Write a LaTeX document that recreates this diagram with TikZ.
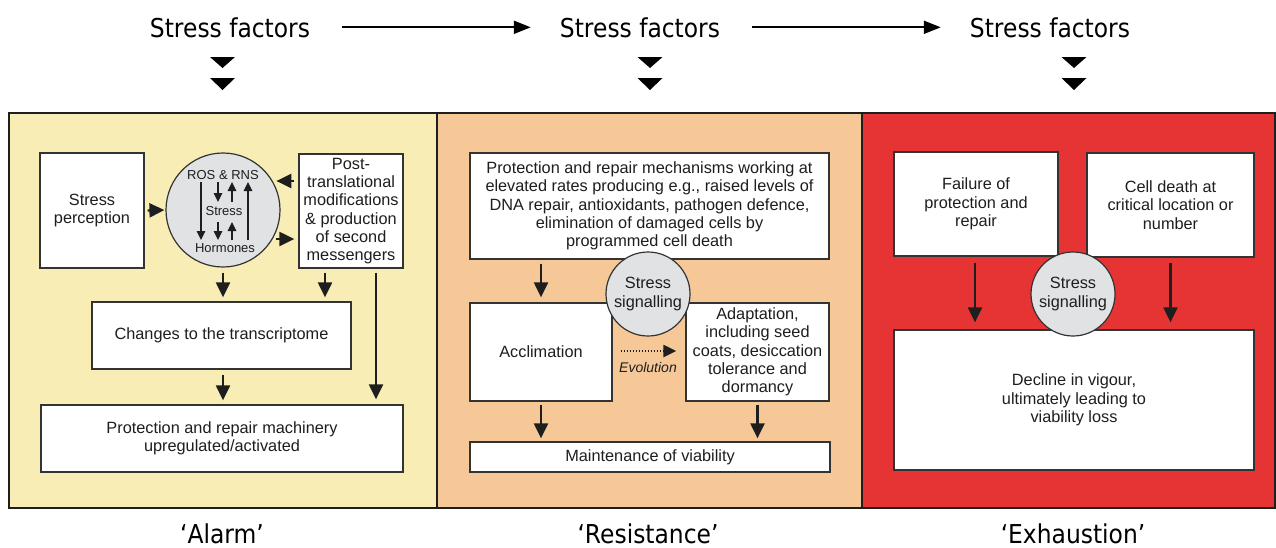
\documentclass[tikz,border=0pt]{standalone}
\usepackage{fontspec}
\setmainfont{Liberation Sans}
\newfontfamily\headfont[FakeStretch=0.9]{DejaVu Sans}
\usetikzlibrary{arrows.meta}
\definecolor{alarmc}{HTML}{F8EDB5}
\definecolor{resc}{HTML}{F6C898}
\definecolor{exhc}{HTML}{E63434}
\definecolor{sigc}{HTML}{E1E2E4}
\definecolor{boxc}{HTML}{333333}
\definecolor{inkc}{HTML}{1E1E1E}
\begin{document}
\begin{tikzpicture}[x=1pt,y=-1pt,
  txt/.style={font=\fontsize{16.3}{18.3}\selectfont, text=inkc},
  box/.style={draw=boxc, line width=1.3pt, fill=white, align=center, inner sep=0pt, txt},
  wh/.style 2 args={minimum width=#1pt, minimum height=#2pt},
  sig/.style={circle, draw=boxc, line width=1.2pt, fill=sigc, align=center, inner sep=0pt, txt},
  arr/.style={draw=inkc, line width=2.2pt, -{Triangle[length=15pt,width=14pt]}},
  small/.style={draw=inkc, line width=1.2pt, -{Triangle[length=9pt,width=8.5pt]}},
  head/.style={font=\headfont\fontsize{26}{30}\selectfont, inner sep=0pt, text=black},
  toparr/.style={draw=black, line width=2pt, -{Triangle[length=17pt,width=13pt]}},
  panel/.style={line width=2.2pt, draw=inkc}
]
\useasboundingbox (0,0) rectangle (1276,547);

% panels
\fill[alarmc] (9,113) rectangle (437,508);
\fill[resc] (437,113) rectangle (862,508);
\fill[exhc] (862,113) rectangle (1275,508);
\draw[panel] (9,113) rectangle (1275,508);
\draw[panel] (437,113) -- (437,508);
\draw[panel] (862,113) -- (862,508);

% top labels
\node[head, anchor=base] (sf1) at (230,37) {Stress factors};
\node[head, anchor=base] (sf2) at (640,37) {Stress factors};
\node[head, anchor=base] (sf3) at (1050,37) {Stress factors};
\draw[toparr, shorten <=32pt, shorten >=29pt] (sf1.east) -- (sf2.west);
\draw[toparr, shorten <=32pt, shorten >=29pt] (sf2.east) -- (sf3.west);

% double triangles
\foreach \cx in {222.5,650,1074}{
  \fill[black] (\cx-12.5,57) -- (\cx+12.5,57) -- (\cx,68) -- cycle;
  \fill[black] (\cx-12.5,78) -- (\cx+12.5,78) -- (\cx,90) -- cycle;
}

% bottom labels
\node[head, anchor=base] (la) at (222,543) {‘Alarm’};
\node[head, anchor=base] (lr) at (648,543) {‘Resistance’};
\node[head, anchor=base] (le) at (1073,543) {‘Exhaustion’};

% ---------------- Alarm ----------------
\node[box, wh={104}{115}] (sp) at (92,210.5) {Stress\\perception};
\node[box, wh={104}{114}] (post) at (351,211) {Post-\\translational\\modifications\\\& production\\of second\\messengers};
\node[box, wh={259}{67}] (chg) at (221.5,335.5) {Changes to the transcriptome};
\node[box, wh={362}{67}] (prot) at (222,438.5) {Protection and repair machinery\\upregulated/activated};
\node[sig, minimum size=114pt] (c1) at (223,210) {};
\node[font=\fontsize{13}{15}\selectfont, text=inkc, inner sep=0pt] (ros) at ([shift={(0,-35)}]c1.center) {ROS \& RNS};
\node[font=\fontsize{13}{15}\selectfont, text=inkc, inner sep=0pt] (st) at ([shift={(1,1)}]c1.center) {Stress};
\node[font=\fontsize{13}{15}\selectfont, text=inkc, inner sep=0pt] (hor) at ([shift={(2,38)}]c1.center) {Hormones};
\draw[small] ([shift={(-22,-28)}]c1.center) -- ([shift={(-22,30)}]c1.center);
\draw[small] ([shift={(-5,-28)}]c1.center) -- ([shift={(-5,-8)}]c1.center);
\draw[small] ([shift={(9,-8)}]c1.center) -- ([shift={(9,-28)}]c1.center);
\draw[small] ([shift={(25,30)}]c1.center) -- ([shift={(25,-28)}]c1.center);
\draw[small] ([shift={(-5,12)}]c1.center) -- ([shift={(-5,30)}]c1.center);
\draw[small] ([shift={(9,30)}]c1.center) -- ([shift={(9,12)}]c1.center);

\draw[arr, shorten <=3pt, shorten >=1pt] (sp.east) -- (c1.west);
\draw[arr, shorten <=4pt] ([shift={(0,-30)}]post.west) -- ([shift={(-22,-30)}]post.west);
\draw[arr, shorten >=4pt] ([shift={(-22,28)}]post.west) -- ([shift={(0,28)}]post.west);
\draw[arr, shorten <=5pt, shorten >=4pt] (c1.south) -- (c1.south |- chg.north);
\draw[arr, shorten <=4pt, shorten >=4pt] ([shift={(-26,0)}]post.south) -- ([shift={(-26,0)}]post.south |- chg.north);
\draw[arr, shorten <=4pt, shorten >=5pt] ([shift={(25,0)}]post.south) -- ([shift={(25,0)}]post.south |- prot.north);
\draw[arr, shorten <=5pt, shorten >=4pt] ([shift={(1.5,0)}]chg.south) -- ([shift={(1.5,0)}]chg.south |- prot.north);

% ---------------- Resistance ----------------
\node[box, wh={359}{106}] (top) at (649.5,206) {Protection and repair mechanisms working at\\elevated rates producing e.g., raised levels of\\DNA repair, antioxidants, pathogen defence,\\elimination of damaged cells by\\programmed cell death};
\node[box, wh={142}{98}] (accl) at (541,352) {Acclimation};
\node[box, wh={143}{98}] (adapt) at (757.5,352) {Adaptation,\\including seed\\coats, desiccation\\tolerance and\\dormancy};
\node[box, wh={360}{30}] (maint) at (650,457) {Maintenance of viability};
\node[sig, minimum size=84pt] (c2) at (648,294) {Stress\\signalling};
\draw[arr, shorten <=4pt, shorten >=5pt] (accl.north |- top.south) -- (accl.north);
\draw[arr, shorten <=3pt, shorten >=3pt] (accl.south) -- (accl.south |- maint.north);
\draw[arr, shorten <=3pt, shorten >=3pt] (adapt.south) -- (adapt.south |- maint.north);
\draw[draw=inkc, line width=2.2pt, dash pattern=on 1.6pt off 1.4pt, -{Triangle[length=13pt,width=12pt]}, shorten <=8pt, shorten >=9pt] ([shift={(0,-1)}]accl.east) -- ([shift={(0,-1)}]adapt.west);
\node[font=\itshape\fontsize{14}{16}\selectfont, text=inkc, inner sep=0pt] (evo) at (648,367) {Evolution};

% ---------------- Exhaustion ----------------
\node[box, wh={164}{104}] (fail) at (976,204) {Failure of\\protection and\\repair};
\node[box, wh={167}{104}] (cell) at (1170.5,205) {Cell death at\\critical location or\\number};
\node[box, wh={360}{140}] (decl) at (1074,400) {Decline in vigour,\\ultimately leading to\\viability loss};
\node[sig, minimum size=84pt] (c3) at (1073,294) {Stress\\signalling};
\draw[arr, shorten <=6pt, shorten >=7pt] ([shift={(-1,0)}]fail.south) -- ([shift={(-1,0)}]fail.south |- decl.north);
\draw[arr, shorten <=5pt, shorten >=7pt] (cell.south) -- (cell.south |- decl.north);
\end{tikzpicture}
\end{document}
